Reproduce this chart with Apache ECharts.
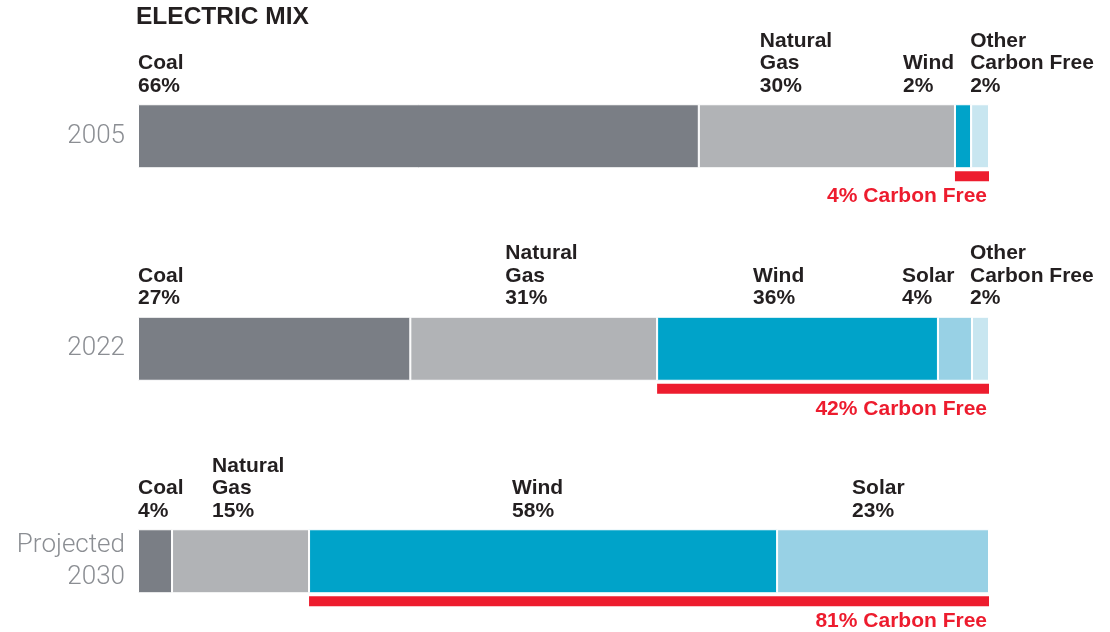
<!DOCTYPE html>
<html>
<head>
<meta charset="utf-8">
<script src="https://cdn.jsdelivr.net/npm/echarts@6/dist/echarts.min.js"></script>
<style>
  html, body { margin: 0; padding: 0; background: #fff; }
  #container { width: 1110px; height: 632px; }
</style>
</head>
<body>
<div id="container"></div>
<script>
// rows, top to bottom
var years = ['2005', '2022', 'Projected\n2030'];

// drawn share of each bar (percent of full length)
var coal   = [65.9, 32.0, 4.0];
var gas    = [30.1, 29.0, 16.1];
var wind   = [1.9, 33.0, 55.0];
var solar  = [0, 4.0, 24.9];
var other  = [2.1, 2.0, 0];

// printed percentages
var coalPct  = [66, 27, 4];
var gasPct   = [30, 31, 15];
var windPct  = [2, 36, 58];
var solarPct = [null, 4, 23];
var otherPct = [2, 2, null];
var carbonFree = [4, 42, 81];

var TXT = '#231f20';
var FONT = '"Liberation Sans", Arial, sans-serif';

// label shift (px) from the start of its segment
var shift = {
    coal:  [0, 0, 0],
    gas:   [61, 95, 40],
    wind:  [-52, 96, 203],
    solar: [0, -36, 75],
    other: [-1, -2, 0]
};

function segData(vals, pcts, name, key) {
    return vals.map(function (v, i) {
        var show = v > 0 && pcts[i] != null;
        return {
            value: v,
            label: {
                show: show,
                formatter: name + '\n' + pcts[i] + '%',
                offset: [shift[key][i], -7]
            }
        };
    });
}

function seg(name, key, vals, pcts, color) {
    return {
        name: name,
        type: 'bar',
        stack: 'mix',
        barWidth: 64,
        data: segData(vals, pcts, name.replace('Natural Gas', 'Natural\nGas').replace('Other Carbon Free', 'Other\nCarbon Free'), key),
        itemStyle: { color: color, borderColor: '#fff', borderWidth: 1 },
        label: {
            show: true,
            position: [0, 0],
            align: 'left',
            verticalAlign: 'bottom',
            color: TXT,
            fontFamily: FONT,
            fontWeight: 'bold',
            fontSize: 21,
            lineHeight: 22.5
        }
    };
}

var dom = document.getElementById('container');
var myChart = echarts.init(dom);

var cfStart = coal.map(function (v, i) { return v + gas[i]; });
var cfLen = wind.map(function (v, i) { return v + solar[i] + other[i]; });

var option = {
    animation: false,
    backgroundColor: '#fff',
    title: {
        text: 'ELECTRIC MIX',
        left: 136,
        top: 5,
        padding: 0,
        textStyle: { color: TXT, fontFamily: FONT, fontWeight: 'bold', fontSize: 24.5 }
    },
    grid: [
        { left: 138, right: 121, top: 30, height: 637.5, outerBoundsMode: 'none', containLabel: false },
        { left: 138, right: 121, top: 70, height: 637.5, outerBoundsMode: 'none', containLabel: false }
    ],
    xAxis: [
        { type: 'value', gridIndex: 0, min: 0, max: 100, show: false },
        { type: 'value', gridIndex: 1, min: 0, max: 100, show: false }
    ],
    yAxis: [
        {
            type: 'category', gridIndex: 0, data: years, inverse: true,
            axisLine: { show: false }, axisTick: { show: false }, splitLine: { show: false },
            axisLabel: {
                color: '#8b8e93', fontFamily: 'Roboto, "Liberation Sans", sans-serif', fontWeight: 300,
                fontSize: 26, lineHeight: 32, margin: 13, align: 'right'
            }
        },
        {
            type: 'category', gridIndex: 1, data: years, inverse: true, show: false
        }
    ],
    series: [
        seg('Coal', 'coal', coal, coalPct, '#7a7e85'),
        seg('Natural Gas', 'gas', gas, gasPct, '#b1b3b6'),
        seg('Wind', 'wind', wind, windPct, '#00a3c9'),
        seg('Solar', 'solar', solar, solarPct, '#98d1e5'),
        seg('Other Carbon Free', 'other', other, otherPct, '#c8e6f0'),
        {
            type: 'bar', stack: 'cf', xAxisIndex: 1, yAxisIndex: 1, barWidth: 10, silent: true,
            itemStyle: { color: 'transparent' },
            data: cfStart
        },
        {
            name: 'Carbon Free',
            type: 'bar', stack: 'cf', xAxisIndex: 1, yAxisIndex: 1, barWidth: 10,
            itemStyle: { color: '#ed1c2e' },
            data: cfLen,
            label: {
                show: true,
                position: ['100%', '100%'],
                align: 'right',
                verticalAlign: 'top',
                offset: [-2, 4],
                color: '#ed1c2e',
                fontFamily: FONT,
                fontWeight: 'bold',
                fontSize: 21,
                lineHeight: 22,
                formatter: function (p) { return carbonFree[p.dataIndex] + '% Carbon Free'; }
            }
        }
    ]
};

if (option && typeof option === 'object') {
    myChart.setOption(option, true);
}
</script>
</body>
</html>
